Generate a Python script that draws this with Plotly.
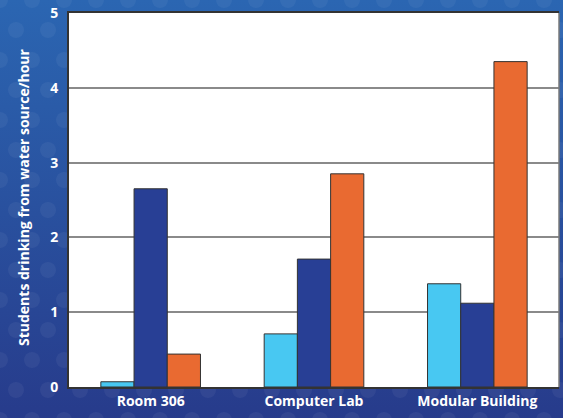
import plotly.graph_objects as go
import urllib.parse

categories = ["Room 306", "Computer Lab", "Modular Building"]
series_a = [0.07, 0.71, 1.38]   # light blue
series_b = [2.65, 1.71, 1.12]   # dark blue
series_c = [0.44, 2.85, 4.35]   # orange
y_ticks = [0, 1, 2, 3, 4, 5]
y_title = "Students drinking from water source/hour"

colors = ["#48c8f2", "#283f95", "#e96a31"]

W, H = 563, 418
ml, mr, mt, mb = 69, 4, 13, 31
pw, ph = W - ml - mr, H - mt - mb

# background: blue gradient with faint dot pattern
circles = []
for r in range(0, 16):
    for c in range(0, 20):
        cx = c * 32 + (16 if r % 2 else 0)
        cy = r * 30
        circles.append(f'<circle cx="{cx}" cy="{cy}" r="8" fill="#ffffff" fill-opacity="0.05"/>')
svg = (f'<svg xmlns="http://www.w3.org/2000/svg" width="{W}" height="{H}" viewBox="0 0 {W} {H}">'
       '<defs><linearGradient id="g" x1="0" y1="0" x2="0" y2="1">'
       '<stop offset="0" stop-color="#2b66b2"/><stop offset="1" stop-color="#273b8b"/>'
       '</linearGradient></defs>'
       f'<rect width="{W}" height="{H}" fill="url(#g)"/>' + "".join(circles) + '</svg>')
src = "data:image/svg+xml;charset=utf-8," + urllib.parse.quote(svg)

fig = go.Figure()
for vals, col in zip([series_a, series_b, series_c], colors):
    fig.add_trace(go.Bar(x=categories, y=vals, marker=dict(color=col, line=dict(color="#333333", width=1))))

fig.update_layout(
    width=W, height=H,
    margin=dict(l=ml, r=mr, t=mt, b=mb),
    paper_bgcolor="#2a55a3",
    plot_bgcolor="rgba(0,0,0,0)",
    barmode="group",
    bargap=0.39,
    bargroupgap=0,
    showlegend=False,
    font=dict(family="Open Sans", color="white"),
    images=[dict(source=src, xref="paper", yref="paper", x=-ml / pw, y=1 + mt / ph,
                 sizex=W / pw, sizey=H / ph, sizing="stretch", layer="below", xanchor="left", yanchor="top")],
    shapes=[
        dict(type="rect", xref="paper", yref="paper", x0=0, x1=1, y0=0, y1=1,
             fillcolor="white", line=dict(width=0), layer="below"),
        dict(type="line", xref="paper", yref="paper", x0=1, x1=1, y0=0, y1=1,
             line=dict(color="#7a7a7a", width=1.5), layer="above"),
    ],
    annotations=[dict(text=f"<b>{y_title}</b>", xref="paper", yref="paper",
                      x=(23 - ml) / pw, y=(H - mb - 197) / ph, textangle=-90, showarrow=False,
                      xanchor="center", yanchor="middle",
                      font=dict(size=14, family="Open Sans", color="white"))],
    xaxis=dict(showline=True, linecolor="#333333", linewidth=2, mirror=True, automargin=False,
               tickfont=dict(size=14, family="Open Sans", color="white", weight="bold"),
               ticks="", showgrid=False),
    yaxis=dict(range=[0, 5], tickvals=y_ticks, showline=True, linecolor="#333333", linewidth=2,
               showgrid=True, gridcolor="#8a8a8a", gridwidth=1.5, zeroline=False, automargin=False,
               ticks="", ticklabelstandoff=6,
               tickfont=dict(size=14, family="Open Sans", color="white", weight="bold")),
)

fig.write_html("out.html", config={"displayModeBar": False},
               post_script="document.body.style.margin='0';document.body.style.overflow='hidden';")
